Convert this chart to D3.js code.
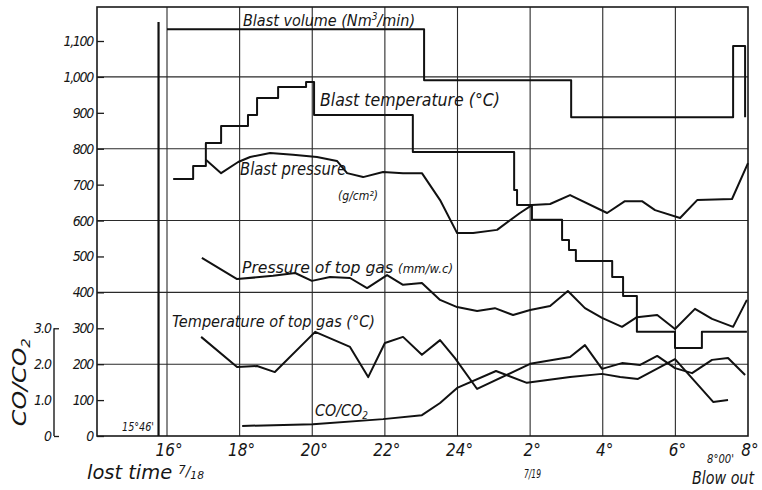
<!DOCTYPE html>
<html><head><meta charset="utf-8">
<script src="https://cdn.jsdelivr.net/npm/d3@7"></script>
<style>
html,body{margin:0;padding:0;background:#fff;}
svg{display:block;}
text{font-family:'DejaVu Sans Condensed','DejaVu Sans',sans-serif;font-style:italic;fill:#161616;}
</style>
</head><body>
<svg id="chart" width="762" height="490"></svg>
<script>
// ---- data (hours counted from 0:00 on 7/18; 26 = 2:00 on 7/19) ----
const hourTicks = [16, 18, 20, 22, 24, 26, 28, 30, 32];
const hourLabels = ["16°", "18°", "20°", "22°", "24°", "2°", "4°", "6°", "8°"];
const yTicks = [0, 100, 200, 300, 400, 500, 600, 700, 800, 900, 1000, 1100];
const yTickLabels = ["0", "100", "200", "300", "400", "500", "600", "700", "800", "900", "1,000", "1,100"];
const yGrid = [200, 400, 600, 800, 1000];
const coTicks = [0, 1, 2, 3];
const coTickLabels = ["0", "1.0", "2.0", "3.0"];
const lostTime = 15.767; // 15°46'

const blastVolumeTime = [16.0, 23.08, 27.13, 31.59, 31.92];
const blastVolume = [1133, 991, 888, 1086, 888];

const blastTempTime = [16.17, 16.72, 17.07, 17.49, 18.23, 18.48, 19.06, 19.83, 20.05, 22.77, 25.56, 25.64, 26.05, 26.88, 27.07, 27.26, 28.26, 28.56, 28.94, 29.99, 30.73, 31.97];
const blastTemp = [716, 752, 816, 863, 894, 941, 972, 986, 894, 791, 685, 643, 602, 546, 518, 487, 443, 390, 290, 245, 290, 290];

const blastPressTime = [17.07, 17.49, 17.96, 18.29, 18.84, 19.47, 20.13, 20.68, 20.96, 21.40, 21.95, 22.50, 23.02, 23.52, 23.99, 24.43, 25.09, 25.72, 26.05, 26.55, 27.10, 28.12, 28.61, 29.08, 29.44, 30.13, 30.60, 31.56, 32.0];
const blastPress = [769, 732, 763, 777, 788, 783, 777, 766, 732, 721, 735, 732, 732, 657, 565, 565, 574, 621, 643, 646, 671, 621, 654, 654, 629, 607, 657, 660, 760];

const topPressTime = [16.96, 17.93, 18.92, 19.53, 19.99, 20.49, 21.04, 21.51, 22.06, 22.50, 23.02, 23.52, 23.99, 24.54, 25.03, 25.53, 26.00, 26.55, 27.04, 27.51, 27.98, 28.53, 28.94, 29.50, 29.99, 30.54, 31.01, 31.59, 31.97];
const topPress = [496, 437, 446, 454, 432, 443, 440, 412, 448, 421, 426, 379, 359, 348, 356, 337, 351, 362, 404, 356, 329, 304, 331, 337, 298, 354, 326, 304, 379];

const topTempTime = [16.94, 17.93, 18.48, 18.97, 20.08, 21.04, 21.54, 22.00, 22.50, 23.02, 23.52, 23.93, 24.54, 26.00, 27.10, 27.51, 27.98, 28.53, 29.03, 29.50, 29.99, 30.46, 31.01, 31.45, 31.92];
const topTemp = [276, 192, 195, 178, 290, 248, 164, 259, 276, 226, 267, 217, 131, 201, 220, 253, 187, 203, 198, 223, 189, 175, 212, 217, 170];

const coRatioTime = [18.07, 20.02, 21.95, 23.02, 23.52, 23.99, 25.06, 25.91, 27.10, 27.98, 28.48, 28.97, 29.99, 31.04, 31.45];
const coRatio = [0.28, 0.33, 0.47, 0.58, 0.92, 1.34, 1.81, 1.48, 1.64, 1.73, 1.64, 1.59, 2.14, 0.95, 1.00];

(function () {
// ---- layout ----
const svg = d3.select("#chart");
const pL = 97, pR = 748, pT = 7, pB = 436;
const x = d3.scaleLinear().domain([16, 32]).range([167, 748]);
const y = d3.scaleLinear().domain([0, 1100]).range([436, 41]);
const yCO = d3.scaleLinear().domain([0, 3]).range([y(0), y(300)]);

svg.append("rect").attr("width", 762).attr("height", 490).attr("fill", "#fff");

const grid = svg.append("g").attr("stroke", "#2a2a2a").attr("stroke-width", 1.1).attr("fill", "none");
yGrid.forEach(v => grid.append("line").attr("x1", pL).attr("x2", pR).attr("y1", y(v)).attr("y2", y(v)));
hourTicks.slice(0, -1).forEach(t => grid.append("line").attr("x1", x(t)).attr("x2", x(t)).attr("y1", pT).attr("y2", pB));

// frame
svg.append("rect").attr("x", pL).attr("y", pT).attr("width", pR - pL).attr("height", pB - pT)
  .attr("fill", "none").attr("stroke", "#1a1a1a").attr("stroke-width", 1.6);

// left axis
const yAxis = d3.axisRight(y).tickValues(yTicks).tickSize(7).tickFormat((d, i) => yTickLabels[i]);
const ga = svg.append("g").attr("transform", `translate(${pL},0)`).call(yAxis);
ga.select(".domain").remove();
ga.selectAll(".tick line").attr("stroke", "#1a1a1a").attr("stroke-width", 1.3);
ga.selectAll(".tick text").attr("x", -4).attr("text-anchor", "end").attr("font-size", 14)
  .attr("letter-spacing", -1.3).attr("font-family", "'DejaVu Sans Condensed','DejaVu Sans',sans-serif")
  .style("font-style", "italic").attr("fill", "#161616");

// bottom labels
const gx = svg.append("g").attr("font-size", 17);
hourTicks.forEach((t, i) => gx.append("text").attr("x", x(t) + 2).attr("y", 456).attr("text-anchor", "middle").text(hourLabels[i]));

// CO/CO2 axis
const coX = 54;
const coAxis = d3.axisRight(yCO).tickValues(coTicks).tickSize(5).tickFormat((d, i) => coTickLabels[i]);
const gc = svg.append("g").attr("transform", `translate(${coX},0)`).call(coAxis);
gc.select(".domain").attr("stroke", "#1a1a1a").attr("stroke-width", 1.4).attr("d", `M0,${yCO(3)}V${yCO(0)}`);
gc.selectAll(".tick line").attr("stroke", "#1a1a1a").attr("stroke-width", 1.3).attr("x2", d => (d === 0 || d === 3) ? 5 : 0);
gc.selectAll(".tick text").attr("x", -3).attr("text-anchor", "end").attr("font-size", 14)
  .attr("letter-spacing", -1).attr("font-family", "'DejaVu Sans Condensed','DejaVu Sans',sans-serif")
  .style("font-style", "italic").attr("fill", "#161616");
svg.append("text").attr("transform", `translate(26,${yCO(1.5)}) rotate(-90)`).attr("text-anchor", "middle")
  .attr("font-size", 19).attr("textLength", 88).attr("lengthAdjust", "spacingAndGlyphs")
  .html('CO/CO<tspan font-size="12" dy="4">2</tspan>');

// lost time marker
svg.append("line").attr("x1", x(lostTime)).attr("x2", x(lostTime)).attr("y1", 22).attr("y2", pB)
  .attr("stroke", "#111").attr("stroke-width", 2.2);

// series
const lineG = svg.append("g").attr("fill", "none").attr("stroke", "#111").attr("stroke-width", 2).attr("stroke-linejoin", "round");
function draw(ts, vs, curve, ys) {
  const data = ts.map((t, i) => [t, vs[i]]);
  const gen = d3.line().x(d => x(d[0])).y(d => (ys || y)(d[1])).curve(curve);
  lineG.append("path").attr("d", gen(data));
}
draw(blastVolumeTime, blastVolume, d3.curveStepAfter);
draw(blastTempTime, blastTemp, d3.curveStepAfter);
draw(blastPressTime, blastPress, d3.curveLinear);
draw(topPressTime, topPress, d3.curveLinear);
draw(topTempTime, topTemp, d3.curveLinear);
draw(coRatioTime, coRatio, d3.curveLinear, yCO);

// labels
function label(xp, yp, size, len, html) {
  svg.append("text").attr("x", xp).attr("y", yp).attr("font-size", size)
    .attr("textLength", len).attr("lengthAdjust", "spacingAndGlyphs").html(html);
}
label(243, 26, 16, 172, 'Blast volume (Nm<tspan font-size="10" dy="-6">3</tspan><tspan dy="6">/min)</tspan>');
label(320, 106, 17, 180, 'Blast temperature (°C)');
label(240, 175, 17, 106, 'Blast pressure');
label(338, 200, 13, 40, '(g/cm²)');
label(242, 273, 16, 211, 'Pressure of top gas <tspan font-size="12">(mm/w.c)</tspan>');
label(172, 327, 16, 203, 'Temperature of top gas (°C)');
label(315, 416, 16, 53, 'CO/CO<tspan font-size="10" dy="3">2</tspan>');
label(122, 431, 12, 32, '15°46\'');
label(87, 479, 20, 117, 'lost time <tspan font-size="12" dy="-5">7</tspan><tspan font-size="14" dy="2">/</tspan><tspan font-size="11" dy="3">18</tspan>');
label(524, 478, 12, 17, '7/19');
label(707, 463, 12, 27, '8°00\'');
label(692, 484, 18, 62, 'Blow out');
})();
</script>
</body></html>
